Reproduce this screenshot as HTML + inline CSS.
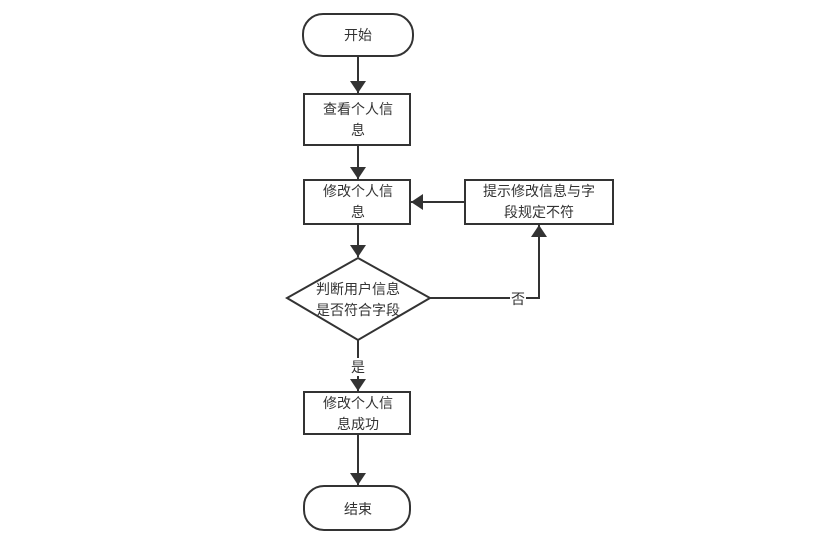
<!DOCTYPE html>
<html><head><meta charset="utf-8"><style>
html,body{margin:0;padding:0;background:#fff;}
svg{display:block;}
text{font-family:"Liberation Sans","Noto Sans CJK SC",sans-serif;font-size:14px;fill:#333;text-anchor:middle;}
</style></head><body>
<svg width="829" height="540" viewBox="0 0 829 540">
<defs><marker id="a" markerWidth="10" markerHeight="10" refX="9" refY="5" orient="auto" markerUnits="userSpaceOnUse"><path d="M0,0 L10,5 L0,10 z" fill="#333"/></marker>
<marker id="b" viewBox="0 0 10 10" markerWidth="12" markerHeight="16" refX="10" refY="5" orient="auto" markerUnits="userSpaceOnUse" preserveAspectRatio="none"><path d="M0,0 L10,5 L0,10 z" fill="#333"/></marker></defs>
<g stroke="#333" stroke-width="2" fill="#fff">
<rect x="303" y="14" width="110" height="42" rx="20"/>
<rect x="304" y="94" width="106" height="51"/>
<rect x="304" y="180" width="106" height="44"/>
<rect x="465" y="180" width="148" height="44"/>
<polygon points="358,258 430,298 358,340 287,298"/>
<rect x="304" y="392" width="106" height="42"/>
<rect x="304" y="486" width="106" height="44" rx="20"/>
</g>
<g stroke="#333" stroke-width="2" fill="none">
<line x1="358" y1="56" x2="358" y2="93" marker-end="url(#b)"/>
<line x1="358" y1="145" x2="358" y2="179" marker-end="url(#b)"/>
<line x1="358" y1="224" x2="358" y2="257" marker-end="url(#b)"/>
<line x1="358" y1="340" x2="358" y2="391" marker-end="url(#b)"/>
<line x1="358" y1="434" x2="358" y2="485" marker-end="url(#b)"/>
<polyline points="430,298 539,298 539,225" marker-end="url(#b)"/>
<line x1="465" y1="202" x2="411" y2="202" marker-end="url(#b)"/>
</g>
<rect x="510" y="290" width="16" height="17" fill="#fff"/>
<rect x="350" y="358" width="16" height="18" fill="#fff"/>
<text x="358" y="40">开始</text>
<text x="358" y="114">查看个人信</text><text x="358" y="135">息</text>
<text x="358" y="196">修改个人信</text><text x="358" y="217">息</text>
<text x="539" y="196">提示修改信息与字</text><text x="539" y="217">段规定不符</text>
<text x="358" y="294">判断用户信息</text><text x="358" y="315">是否符合字段</text>
<text x="518" y="304">否</text>
<text x="358" y="372">是</text>
<text x="358" y="408">修改个人信</text><text x="358" y="429">息成功</text>
<text x="358" y="514">结束</text>
</svg>
</body></html>
